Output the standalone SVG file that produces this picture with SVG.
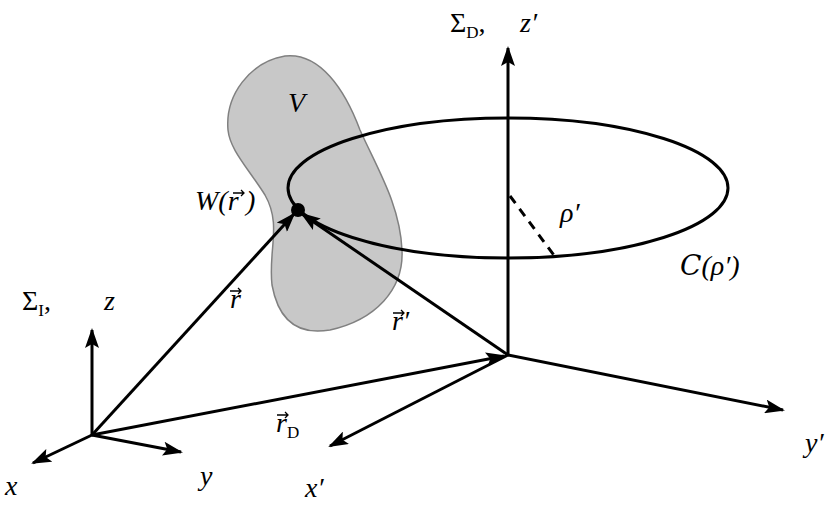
<svg xmlns="http://www.w3.org/2000/svg" width="830" height="531" viewBox="0 0 830 531">
<style>
.ax{stroke:#000;stroke-width:3;fill:none}
.t{font-family:"Liberation Serif",serif;font-size:28px;font-style:italic;fill:#000}
.r{font-style:normal}
.s{font-size:17px;font-style:normal}
.vec{stroke:#000;stroke-width:1.3;fill:none}
</style>
<defs>
<marker id="a" viewBox="0 0 20 14" refX="18" refY="7" markerWidth="20" markerHeight="14" markerUnits="userSpaceOnUse" orient="auto">
<path d="M0,0 L20,7 L0,14 L4,7 z" fill="#000"/>
</marker>
<path id="va" d="M0,0 H11 M8,-3 L11,0 L8,3" class="vec"/>
</defs>
<g id="volume">
<path d="M228,130 C225,95 250,62 285,56 C320,52 345,90 360,130 C378,170 400,205 402,250 C404,290 375,320 330,330 C295,336 278,318 272,285 C268,250 282,225 265,195 C248,168 230,150 228,130 Z" fill="#c8c8c8" stroke="#808080" stroke-width="1.5"/>
</g>
<g id="orbit">
<ellipse cx="508" cy="188" rx="220" ry="70" fill="none" stroke="#000" stroke-width="3"/>
<line x1="510" y1="196" x2="556" y2="258" stroke="#000" stroke-width="3" stroke-dasharray="9,7"/>
</g>
<g id="connectors">
<line class="ax" x1="508" y1="355" x2="508" y2="48" marker-end="url(#a)"/>
<line class="ax" x1="508" y1="355" x2="783" y2="410" marker-end="url(#a)"/>
<line class="ax" x1="508" y1="355" x2="330" y2="446" marker-end="url(#a)"/>
<line class="ax" x1="92" y1="435" x2="92" y2="330" marker-end="url(#a)"/>
<line class="ax" x1="92" y1="435" x2="181" y2="452" marker-end="url(#a)"/>
<line class="ax" x1="92" y1="435" x2="33" y2="463" marker-end="url(#a)"/>
<line class="ax" x1="92" y1="435" x2="504" y2="356" marker-end="url(#a)"/>
<line class="ax" x1="92" y1="435" x2="294" y2="214" marker-end="url(#a)"/>
<line class="ax" x1="508" y1="355" x2="302" y2="214" marker-end="url(#a)"/>
</g>
<g id="point"><circle cx="298" cy="210" r="7" fill="#000"/></g>
<g id="labels">
<text class="t" x="450" y="32"><tspan class="r">Σ</tspan><tspan class="s" dy="6">D</tspan><tspan class="r" dy="-6">,</tspan><tspan x="520">z′</tspan></text>
<text class="t" x="288" y="112">V</text>
<text class="t" x="195" y="210">W(r<tspan x="246">)</tspan></text>
<use href="#va" x="233" y="193"/>
<text class="t" x="560" y="222">ρ′</text>
<text class="t" x="680" y="275"><tspan font-family="DejaVu Serif">C</tspan>(ρ′)</text>
<text class="t" x="22" y="310"><tspan class="r">Σ</tspan><tspan class="s" dy="6">I</tspan><tspan class="r" dy="-6">,</tspan><tspan x="104">z</tspan></text>
<text class="t" x="230" y="308">r</text>
<use href="#va" x="230" y="291"/>
<text class="t" x="392" y="330">r′</text>
<use href="#va" x="393" y="313"/>
<text class="t" x="276" y="432">r<tspan class="s" dy="6">D</tspan></text>
<use href="#va" x="277" y="415"/>
<text class="t" x="5" y="495">x</text>
<text class="t" x="200" y="485">y</text>
<text class="t" x="305" y="497">x′</text>
<text class="t" x="805" y="452">y′</text>
</g>
</svg>
